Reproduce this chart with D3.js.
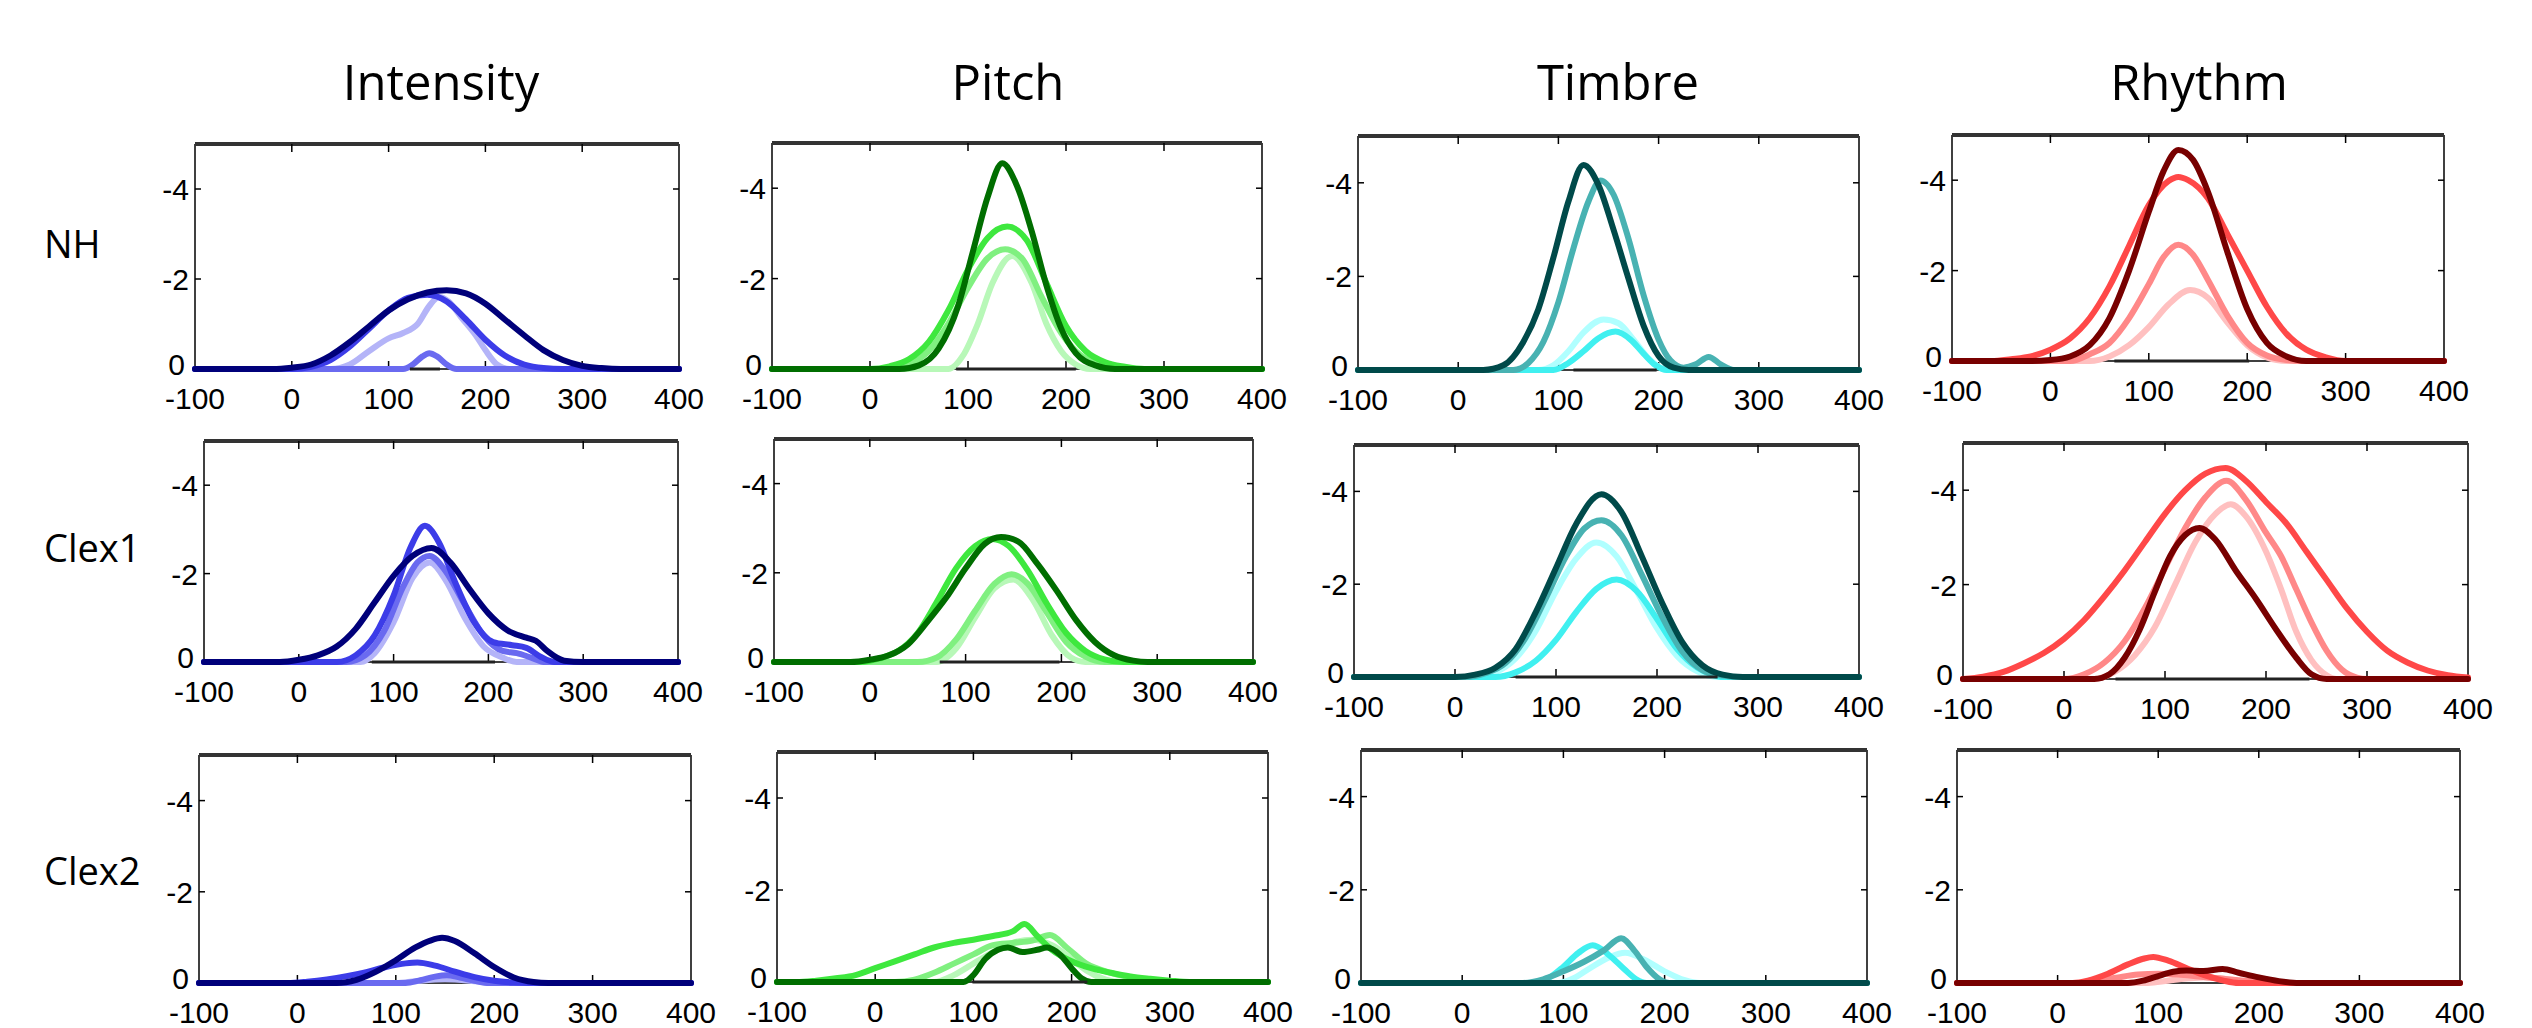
<!DOCTYPE html>
<html>
<head>
<meta charset="utf-8">
<script src="https://cdn.jsdelivr.net/npm/d3@7"></script>
<style>
  body { margin: 0; background: #fff; }
  svg { display: block; }
</style>
</head>
<body>
<div id="chart"></div>
<script>
// categories and ticks
const columns = ["Intensity", "Pitch", "Timbre", "Rhythm"];
const rows = ["NH", "Clex1", "Clex2"];
const xTicks = [-100, 0, 100, 200, 300, 400];
const yTicks = [0, -2, -4];

// 4 shades per column, darkest first
const shades = [
    ["#00007a", "#3c3ce8", "#6a6af0", "#b4b4f8"],
    ["#006e00", "#3ee83e", "#80f080", "#b8f8b8"],
    ["#004a4a", "#48b2b2", "#40f0f0", "#b0ffff"],
    ["#780000", "#ff4848", "#ff8888", "#ffc0c0"]
];

// curves per panel: [darkest, 2nd, 3rd, 4th], each a list of [time, amplitude]
const nhIntensity = [
    [[-100,0],[-20,0],[0,-0.03],[20,-0.1],[40,-0.3],[60,-0.6],[80,-0.95],[100,-1.3],[120,-1.55],[140,-1.7],[160,-1.75],[180,-1.68],[200,-1.45],[220,-1.1],[240,-0.75],[260,-0.42],[280,-0.2],[300,-0.07],[320,-0.02],[340,0],[400,0]],
    [[-100,0],[0,0],[20,-0.05],[40,-0.2],[60,-0.5],[80,-0.9],[100,-1.3],[120,-1.58],[140,-1.65],[160,-1.5],[180,-1.1],[200,-0.65],[220,-0.3],[240,-0.1],[260,-0.02],[280,0],[400,0]],
    [[-100,0],[115,0],[125,-0.1],[135,-0.28],[142,-0.35],[150,-0.28],[160,-0.1],[170,0],[400,0]],
    [[-100,0],[40,0],[60,-0.1],[80,-0.4],[100,-0.68],[115,-0.8],[130,-1.0],[142,-1.4],[152,-1.6],[162,-1.5],[175,-1.15],[190,-0.75],[200,-0.42],[212,-0.1],[225,0],[400,0]]
];
const nhPitch = [
    [[-100,0],[30,0],[50,-0.08],[70,-0.45],[90,-1.4],[105,-2.6],[120,-3.8],[135,-4.55],[150,-4.05],[165,-3.05],[180,-1.85],[195,-0.9],[210,-0.35],[230,-0.08],[250,0],[400,0]],
    [[-100,0],[0,0],[20,-0.06],[40,-0.22],[60,-0.6],[80,-1.3],[100,-2.2],[120,-2.9],[140,-3.15],[160,-2.85],[180,-1.9],[200,-0.95],[220,-0.4],[240,-0.15],[260,-0.05],[280,0],[400,0]],
    [[-100,0],[20,0],[40,-0.1],[60,-0.4],[80,-1.0],[100,-1.8],[120,-2.45],[138,-2.65],[155,-2.45],[175,-1.6],[195,-0.8],[215,-0.3],[240,-0.08],[260,0],[400,0]],
    [[-100,0],[80,0],[95,-0.3],[110,-1.0],[125,-1.9],[145,-2.5],[165,-1.9],[180,-1.0],[195,-0.4],[210,-0.1],[225,0],[400,0]]
];
const nhTimbre = [
    [[-100,0],[25,0],[45,-0.1],[65,-0.6],[80,-1.3],[95,-2.4],[110,-3.6],[125,-4.38],[140,-3.95],[155,-3.0],[170,-1.95],[185,-0.95],[200,-0.3],[215,-0.05],[230,0],[400,0]],
    [[-100,0],[55,0],[70,-0.15],[85,-0.6],[100,-1.45],[115,-2.6],[130,-3.6],[142,-4.05],[155,-3.75],[170,-2.8],[185,-1.6],[200,-0.65],[212,-0.2],[225,-0.05],[237,-0.12],[250,-0.28],[262,-0.12],[275,0],[400,0]],
    [[-100,0],[95,0],[110,-0.15],[125,-0.4],[140,-0.68],[157,-0.82],[172,-0.65],[185,-0.35],[197,-0.1],[208,0],[400,0]],
    [[-100,0],[80,0],[95,-0.1],[110,-0.4],[125,-0.8],[145,-1.08],[160,-1.0],[175,-0.65],[190,-0.25],[205,-0.03],[215,0],[400,0]]
];
const nhRhythm = [
    [[-100,0],[-20,0],[0,-0.02],[20,-0.1],[40,-0.35],[60,-0.95],[80,-2.0],[100,-3.3],[115,-4.2],[130,-4.67],[145,-4.45],[160,-3.75],[180,-2.4],[200,-1.15],[220,-0.4],[240,-0.1],[260,0],[400,0]],
    [[-100,0],[-60,0],[-40,-0.04],[-20,-0.1],[0,-0.25],[20,-0.5],[40,-0.95],[60,-1.65],[80,-2.55],[100,-3.45],[120,-3.98],[130,-4.07],[140,-4.0],[160,-3.6],[180,-2.8],[200,-2.0],[220,-1.2],[240,-0.6],[260,-0.25],[280,-0.08],[300,0],[400,0]],
    [[-100,0],[20,0],[40,-0.15],[60,-0.4],[80,-0.95],[100,-1.7],[115,-2.3],[130,-2.57],[145,-2.35],[160,-1.8],[180,-1.0],[200,-0.4],[220,-0.12],[240,-0.02],[255,0],[400,0]],
    [[-100,0],[40,0],[60,-0.1],[80,-0.35],[100,-0.75],[120,-1.25],[142,-1.57],[160,-1.4],[180,-0.85],[200,-0.35],[220,-0.08],[240,0],[400,0]]
];
const clex1Intensity = [
    [[-100,0],[-20,0],[0,-0.05],[20,-0.15],[40,-0.35],[60,-0.75],[80,-1.35],[100,-1.95],[120,-2.4],[140,-2.58],[160,-2.25],[180,-1.65],[200,-1.1],[220,-0.72],[240,-0.55],[250,-0.48],[262,-0.25],[280,-0.03],[300,0],[400,0]],
    [[-100,0],[40,0],[60,-0.15],[80,-0.6],[100,-1.5],[118,-2.6],[133,-3.08],[148,-2.7],[165,-1.8],[185,-0.9],[205,-0.45],[225,-0.38],[240,-0.32],[255,-0.12],[270,0],[400,0]],
    [[-100,0],[50,0],[70,-0.15],[90,-0.7],[110,-1.7],[125,-2.25],[138,-2.4],[155,-2.05],[175,-1.3],[195,-0.6],[215,-0.25],[230,-0.2],[245,-0.1],[260,0],[400,0]],
    [[-100,0],[65,0],[80,-0.2],[100,-0.9],[120,-1.9],[138,-2.25],[155,-1.85],[175,-1.0],[195,-0.35],[215,-0.1],[230,0],[400,0]]
];
const clex1Pitch = [
    [[-100,0],[-20,0],[0,-0.05],[20,-0.15],[40,-0.4],[60,-0.9],[80,-1.45],[100,-2.1],[120,-2.65],[137,-2.8],[155,-2.7],[175,-2.2],[195,-1.6],[215,-0.95],[235,-0.45],[255,-0.15],[275,-0.03],[290,0],[400,0]],
    [[-100,0],[-10,0],[10,-0.08],[30,-0.25],[50,-0.65],[70,-1.35],[90,-2.1],[110,-2.6],[128,-2.76],[145,-2.6],[165,-2.05],[185,-1.3],[205,-0.65],[225,-0.25],[245,-0.06],[265,0],[400,0]],
    [[-100,0],[50,0],[70,-0.1],[90,-0.5],[110,-1.15],[130,-1.75],[148,-1.97],[165,-1.75],[185,-1.1],[205,-0.45],[225,-0.12],[245,0],[400,0]],
    [[-100,0],[70,0],[90,-0.3],[110,-1.0],[130,-1.65],[150,-1.85],[170,-1.4],[190,-0.6],[210,-0.1],[225,0],[400,0]]
];
const clex1Timbre = [
    [[-100,0],[0,0],[20,-0.05],[40,-0.2],[60,-0.6],[80,-1.4],[100,-2.35],[120,-3.3],[145,-3.94],[165,-3.55],[185,-2.6],[205,-1.6],[225,-0.75],[245,-0.25],[265,-0.05],[285,0],[400,0]],
    [[-100,0],[10,0],[30,-0.08],[50,-0.3],[70,-0.85],[90,-1.7],[110,-2.6],[128,-3.2],[145,-3.38],[165,-3.05],[185,-2.2],[205,-1.3],[225,-0.55],[245,-0.15],[265,-0.03],[280,0],[400,0]],
    [[-100,0],[40,0],[60,-0.1],[80,-0.35],[100,-0.8],[120,-1.4],[140,-1.9],[160,-2.1],[180,-1.85],[200,-1.25],[220,-0.6],[240,-0.2],[255,-0.05],[265,0],[400,0]],
    [[-100,0],[20,0],[40,-0.1],[60,-0.4],[80,-1.0],[100,-1.85],[120,-2.55],[140,-2.9],[160,-2.6],[180,-1.85],[200,-1.05],[220,-0.45],[240,-0.12],[260,0],[400,0]]
];
const clex1Rhythm = [
    [[-100,0],[30,0],[45,-0.1],[60,-0.45],[75,-1.05],[90,-1.85],[105,-2.6],[120,-3.05],[134,-3.2],[150,-2.95],[170,-2.3],[190,-1.7],[210,-1.05],[230,-0.45],[245,-0.1],[260,0],[400,0]],
    [[-100,0],[-80,-0.05],[-60,-0.15],[-40,-0.33],[-20,-0.55],[0,-0.85],[20,-1.25],[40,-1.75],[60,-2.3],[80,-2.9],[100,-3.5],[120,-4.0],[140,-4.35],[160,-4.47],[180,-4.2],[200,-3.75],[220,-3.3],[240,-2.7],[260,-2.1],[280,-1.5],[300,-1.0],[320,-0.6],[340,-0.35],[360,-0.18],[380,-0.08],[400,-0.03]],
    [[-100,0],[0,0],[20,-0.1],[40,-0.35],[60,-0.8],[80,-1.5],[100,-2.35],[120,-3.2],[140,-3.85],[161,-4.2],[180,-3.8],[200,-3.1],[215,-2.6],[230,-1.9],[245,-1.2],[260,-0.6],[275,-0.2],[290,-0.03],[300,0],[400,0]],
    [[-100,0],[30,0],[50,-0.15],[70,-0.5],[90,-1.1],[110,-2.0],[130,-2.9],[150,-3.5],[165,-3.7],[180,-3.45],[200,-2.7],[215,-1.9],[230,-1.0],[245,-0.4],[260,-0.08],[270,0],[400,0]]
];
const clex2Intensity = [
    [[-100,0],[40,0],[60,-0.07],[80,-0.25],[100,-0.5],[120,-0.78],[135,-0.93],[147,-0.99],[160,-0.92],[180,-0.65],[200,-0.35],[220,-0.12],[240,-0.02],[255,0],[400,0]],
    [[-100,0],[-10,0],[10,-0.03],[30,-0.08],[50,-0.15],[70,-0.24],[90,-0.35],[110,-0.43],[122,-0.45],[140,-0.38],[160,-0.25],[180,-0.13],[200,-0.05],[220,-0.01],[235,0],[400,0]],
    [[-100,0],[110,0],[125,-0.06],[140,-0.14],[152,-0.17],[165,-0.12],[180,-0.05],[195,0],[400,0]],
    [[-100,0],[100,0],[120,-0.04],[150,-0.08],[180,-0.04],[200,0],[400,0]]
];
const clex2Pitch = [
    [[-100,0],[90,0],[100,-0.15],[112,-0.5],[125,-0.7],[135,-0.75],[150,-0.65],[165,-0.7],[175,-0.75],[188,-0.6],[200,-0.3],[210,-0.08],[220,0],[400,0]],
    [[-100,0],[-80,0],[-60,-0.03],[-40,-0.08],[-20,-0.15],[0,-0.3],[20,-0.45],[40,-0.6],[60,-0.75],[80,-0.85],[100,-0.92],[120,-1.0],[140,-1.1],[152,-1.26],[165,-1.0],[180,-0.7],[200,-0.45],[220,-0.3],[240,-0.2],[260,-0.12],[280,-0.07],[300,-0.03],[320,0],[400,0]],
    [[-100,0],[20,0],[40,-0.05],[60,-0.2],[80,-0.4],[100,-0.6],[120,-0.8],[140,-0.85],[160,-0.9],[178,-1.02],[195,-0.75],[215,-0.4],[240,-0.2],[270,-0.07],[300,0],[400,0]],
    [[-100,0],[60,0],[80,-0.15],[100,-0.4],[120,-0.65],[140,-0.85],[160,-0.92],[180,-0.8],[200,-0.5],[215,-0.25],[235,-0.05],[250,0],[400,0]]
];
const clex2Timbre = [
    [[-100,0],[400,0]],
    [[-100,0],[60,0],[80,-0.08],[100,-0.25],[120,-0.45],[140,-0.7],[157,-0.96],[170,-0.7],[182,-0.35],[195,-0.08],[205,0],[400,0]],
    [[-100,0],[70,0],[85,-0.1],[100,-0.35],[115,-0.65],[129,-0.81],[145,-0.6],[160,-0.3],[172,-0.08],[182,0],[400,0]],
    [[-100,0],[95,0],[110,-0.1],[125,-0.3],[145,-0.55],[161,-0.65],[180,-0.5],[200,-0.25],[220,-0.06],[235,0],[400,0]]
];
const clex2Rhythm = [
    [[-100,0],[70,0],[85,-0.05],[100,-0.15],[115,-0.24],[128,-0.27],[145,-0.26],[164,-0.3],[180,-0.22],[200,-0.12],[220,-0.04],[240,0],[400,0]],
    [[-100,0],[15,0],[30,-0.05],[50,-0.2],[70,-0.4],[85,-0.52],[95,-0.56],[110,-0.48],[130,-0.3],[150,-0.14],[165,-0.05],[180,0],[400,0]],
    [[-100,0],[20,0],[40,-0.05],[60,-0.12],[80,-0.18],[100,-0.2],[120,-0.18],[140,-0.14],[160,-0.1],[180,-0.06],[210,-0.02],[230,0],[400,0]],
    [[-100,0],[90,0],[110,-0.05],[130,-0.1],[145,-0.12],[160,-0.1],[180,-0.05],[200,0],[400,0]]
];

// significant time windows (black bar on the zero line), null = none
const sigWindows = [
    [[122, 153], [88, 210], [115, 198], [65, 202]],
    [[77, 207], [73, 198], [60, 260], [51, 243]],
    [null, [99, 216], null, null]
];

const panelCurves = [
    [nhIntensity, nhPitch, nhTimbre, nhRhythm],
    [clex1Intensity, clex1Pitch, clex1Timbre, clex1Rhythm],
    [clex2Intensity, clex2Pitch, clex2Timbre, clex2Rhythm]
];

// layout: pixel box of each axes (left, right, top, zero line)
const boxes = [
    [{l:195,r:679,t:144,z:369}, {l:772,r:1262,t:143,z:369}, {l:1358,r:1859,t:136,z:370}, {l:1952,r:2444,t:135,z:361}],
    [{l:204,r:678,t:441,z:662}, {l:774,r:1253,t:439,z:662}, {l:1354,r:1859,t:445,z:677}, {l:1963,r:2468,t:443,z:679}],
    [{l:199,r:691,t:755,z:983}, {l:777,r:1268,t:752,z:982}, {l:1361,r:1867,t:750,z:983}, {l:1957,r:2460,t:750,z:983}]
];
const titleX = [441, 1008, 1618, 2199];
const rowLabelY = [258, 562, 885];

const W = 2532, H = 1028;
const svg = d3.select("#chart").append("svg")
    .attr("width", W)
    .attr("height", H);

// column titles
svg.selectAll(".title")
    .data(columns)
    .enter().append("text")
    .attr("x", (d, i) => titleX[i])
    .attr("y", 100)
    .attr("text-anchor", "middle")
    .style("font-family", "'Open Sans', sans-serif")
    .style("font-size", "49px")
    .text(d => d);

// row labels
svg.selectAll(".rowlab")
    .data(rows)
    .enter().append("text")
    .attr("x", 44)
    .attr("y", (d, i) => rowLabelY[i])
    .style("font-family", "'Open Sans', sans-serif")
    .style("font-size", "38px")
    .text(d => d);

const tickFont = "'Liberation Sans', Arial, sans-serif";
const drawOrder = [3, 2, 1, 0];

rows.forEach(function (rowName, ri) {
    columns.forEach(function (colName, ci) {
        const b = boxes[ri][ci];
        const x = d3.scaleLinear().domain([-100, 400]).range([b.l, b.r]);
        const y = d3.scaleLinear().domain([0, -5]).range([b.z, b.t]);
        const g = svg.append("g");

        // frame
        g.append("line").attr("x1", b.l).attr("x2", b.r).attr("y1", b.z).attr("y2", b.z)
            .attr("stroke", "#000").attr("stroke-width", 1.5);
        g.append("line").attr("x1", b.l).attr("x2", b.l).attr("y1", b.t).attr("y2", b.z)
            .attr("stroke", "#000").attr("stroke-width", 1.5);
        g.append("line").attr("x1", b.r).attr("x2", b.r).attr("y1", b.t).attr("y2", b.z)
            .attr("stroke", "#000").attr("stroke-width", 1.5);
        g.append("line").attr("x1", b.l).attr("x2", b.r).attr("y1", b.t).attr("y2", b.t)
            .attr("stroke", "#333").attr("stroke-width", 4);

        // inward ticks
        xTicks.slice(1, -1).forEach(function (t) {
            g.append("line").attr("x1", x(t)).attr("x2", x(t)).attr("y1", b.t).attr("y2", b.t + 8)
                .attr("stroke", "#000").attr("stroke-width", 1.5);
            g.append("line").attr("x1", x(t)).attr("x2", x(t)).attr("y1", b.z).attr("y2", b.z - 8)
                .attr("stroke", "#000").attr("stroke-width", 1.5);
        });
        yTicks.slice(1).forEach(function (t) {
            g.append("line").attr("x1", b.l).attr("x2", b.l + 6).attr("y1", y(t)).attr("y2", y(t))
                .attr("stroke", "#000").attr("stroke-width", 1.5);
            g.append("line").attr("x1", b.r).attr("x2", b.r - 6).attr("y1", y(t)).attr("y2", y(t))
                .attr("stroke", "#000").attr("stroke-width", 1.5);
        });

        // tick labels
        g.selectAll(".xl").data(xTicks).enter().append("text")
            .attr("x", d => x(d))
            .attr("y", b.z + 40)
            .attr("text-anchor", "middle")
            .style("font-family", tickFont)
            .style("font-size", "30px")
            .text(d => d < 0 ? "-" + Math.abs(d) : d);
        g.selectAll(".yl").data(yTicks).enter().append("text")
            .attr("x", d => d === 0 ? b.l - 10 : b.l - 6)
            .attr("y", d => d === 0 ? y(d) + 6 : y(d) + 11)
            .attr("text-anchor", "end")
            .style("font-family", tickFont)
            .style("font-size", "30px")
            .text(d => d < 0 ? "-" + Math.abs(d) : d);

        // curves
        const line = d3.line()
            .x(d => x(d[0]))
            .y(d => y(d[1]))
            .curve(d3.curveMonotoneX);
        drawOrder.forEach(function (k) {
            g.append("path")
                .datum(panelCurves[ri][ci][k])
                .attr("d", line)
                .attr("fill", "none")
                .attr("stroke", shades[ci][k])
                .attr("stroke-width", 6)
                .attr("stroke-linejoin", "round")
                .attr("stroke-linecap", "round");
        });

        // significance bar
        const w = sigWindows[ri][ci];
        if (w) {
            g.append("line")
                .attr("x1", x(w[0])).attr("x2", x(w[1]))
                .attr("y1", y(0)).attr("y2", y(0))
                .attr("stroke", "#222").attr("stroke-width", 3);
        }
    });
});
</script>
</body>
</html>
